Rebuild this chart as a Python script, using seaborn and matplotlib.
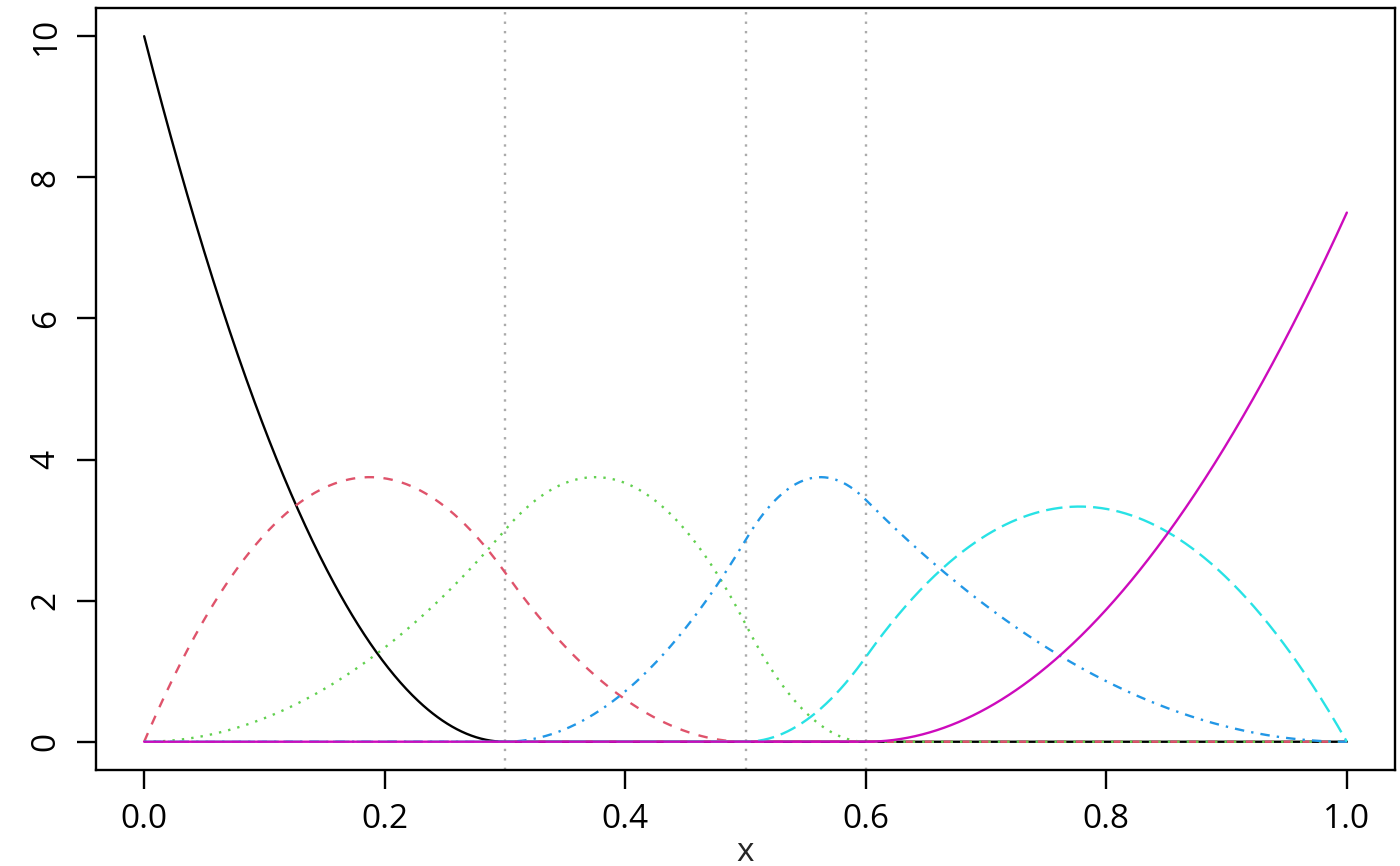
import numpy as np
import pandas as pd
import seaborn as sns
import matplotlib.pyplot as plt

# spline setup: quadratic M-spline basis, knots at the dotted lines
inner_knots = [0.3, 0.5, 0.6]
boundary = [0.0, 1.0]
degree = 2
basis_names = ["M1", "M2", "M3", "M4", "M5", "M6"]
line_colors = ["#000000", "#DF536B", "#61D04F", "#2297E6", "#28E2E5", "#CD0BBC"]
x_ticks = [0.0, 0.2, 0.4, 0.6, 0.8, 1.0]
y_ticks = [0, 2, 4, 6, 8, 10]


def bspline_basis(x, knots, order):
    # Cox-de Boor recursion
    n = len(knots) - 1
    B = np.zeros((len(x), n))
    for i in range(n):
        B[:, i] = (x >= knots[i]) & (x < knots[i + 1])
    # right end belongs to the last non-empty interval
    last = max(i for i in range(n) if knots[i] < knots[i + 1])
    B[x == knots[-1], last] = 1.0
    for k in range(2, order + 1):
        Bn = np.zeros((len(x), n - k + 1))
        for i in range(n - k + 1):
            d1 = knots[i + k - 1] - knots[i]
            d2 = knots[i + k] - knots[i + 1]
            t1 = (x - knots[i]) / d1 * B[:, i] if d1 > 0 else 0
            t2 = (knots[i + k] - x) / d2 * B[:, i + 1] if d2 > 0 else 0
            Bn[:, i] = t1 + t2
        B = Bn
    return B


order = degree + 1
knots = np.array([boundary[0]] * order + inner_knots + [boundary[1]] * order)
xs = np.linspace(0, 1, 1001)
B = bspline_basis(xs, knots, order)
M = np.column_stack([order / (knots[i + order] - knots[i]) * B[:, i]
                     for i in range(B.shape[1])])

df = pd.concat([pd.DataFrame({"x": xs, "y": M[:, i], "basis": name})
                for i, name in enumerate(basis_names)], ignore_index=True)

sns.set_style("white")
plt.rcParams["font.family"] = ["Open Sans", "DejaVu Sans"]
plt.rcParams["font.size"] = 12

fig = plt.figure(figsize=(7, 4.33), dpi=200)
ax = fig.add_axes([0.0686, 0.1109, 0.9278, 0.8799])

lw = 0.85
dash_map = {
    "M1": "",
    "M2": (4, 4),
    "M3": (1, 3),
    "M4": (1, 3, 4, 3),
    "M5": (7, 3),
    "M6": "",
}
sns.lineplot(data=df, x="x", y="y", hue="basis", style="basis",
             palette=dict(zip(basis_names, line_colors)), dashes=dash_map,
             estimator=None, sort=False, linewidth=lw, legend=False, ax=ax)

for k in inner_knots:
    ax.axvline(k, color="#AAAAAA", linestyle=(0, (1, 3)), linewidth=lw, zorder=0)

ax.set_xlim(-0.04, 1.04)
ax.set_ylim(-0.4, 10.4)
ax.set_xticks(x_ticks)
ax.set_xticklabels([f"{t:.1f}" for t in x_ticks])
ax.set_yticks(y_ticks)
ax.set_yticklabels([str(t) for t in y_ticks], rotation=90, va="center")
ax.tick_params(axis="both", direction="out", length=7, width=lw, pad=5,
               labelsize=12, colors="black", bottom=True, left=True)
for s in ax.spines.values():
    s.set_visible(True)
    s.set_color("black")
    s.set_linewidth(lw)
ax.set_xlabel("x", fontsize=12, labelpad=0)
ax.set_ylabel("")

fig.savefig("out.png", dpi=200)
plt.close(fig)
